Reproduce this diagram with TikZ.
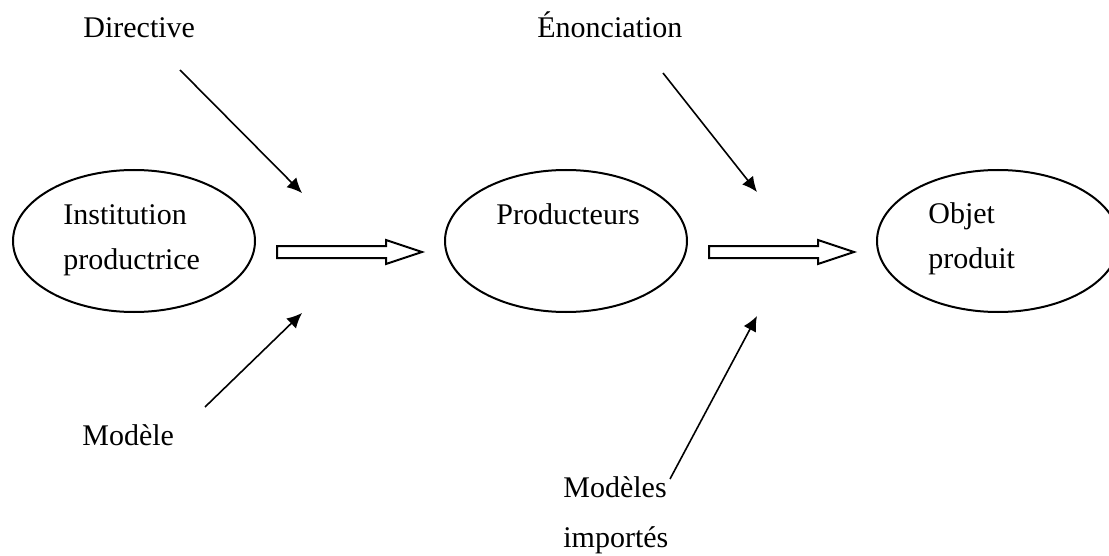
\documentclass[tikz,border=0pt]{standalone}
\usepackage{fontspec}
\setmainfont{Liberation Serif}
\usetikzlibrary{arrows.meta,shapes.geometric}
\begin{document}
\begin{tikzpicture}[x=0.5pt,y=-0.5pt,
  lbl/.style={anchor=base west,inner sep=0pt,font=\fontsize{15}{18}\selectfont},
  oval/.style={draw,line width=1pt,ellipse,minimum width=121pt,minimum height=71pt,inner sep=0pt},
  thin/.style={line width=0.8pt,-{Latex[length=7.5pt,width=7pt]}},
  block/.style={draw,line width=1pt,fill=white,line join=miter}]
\clip (0,0) rectangle (1109,556);
\fill[white] (0,0) rectangle (1109,556);
% ellipses
\node[oval] (e1) at (134,241) {};
\node[oval] (e2) at (566,241) {};
\node[oval] (e3) at (998,241) {};
% texts
\node[lbl] (dir) at (83,38) {Directive};
\node[lbl] (eno) at (537,38) {Énonciation};
\node[lbl] (inst1) at (63,224) {Institution};
\node[lbl] (inst2) at (63,270) {productrice};
\node[lbl] (prod) at (496,225) {Producteurs};
\node[lbl] (obj1) at (928,223) {Objet};
\node[lbl] (obj2) at (928,268) {produit};
\node[lbl] (mod) at (82,445) {Modèle};
\node[lbl] (mods1) at (563,497) {Modèles};
\node[lbl] (mods2) at (563,547) {importés};
% thin arrows
\coordinate (a1s) at (180,70);  \coordinate (a1e) at (302,193);
\coordinate (a2s) at (205,407); \coordinate (a2e) at (302,313);
\coordinate (a3s) at (663,73);  \coordinate (a3e) at (757,192);
\coordinate (a4s) at (670,479); \coordinate (a4e) at (757,316);
\draw[thin] (a1s) -- (a1e);
\draw[thin] (a2s) -- (a2e);
\draw[thin] (a3s) -- (a3e);
\draw[thin] (a4s) -- (a4e);
% block arrows
\draw[block] (277,246) -- (386,246) -- (386,240) -- (422,252) -- (386,264) -- (386,258) -- (277,258) -- cycle;
\draw[block] (709,246) -- (818,246) -- (818,240) -- (854,252) -- (818,264) -- (818,258) -- (709,258) -- cycle;
\end{tikzpicture}
\end{document}
